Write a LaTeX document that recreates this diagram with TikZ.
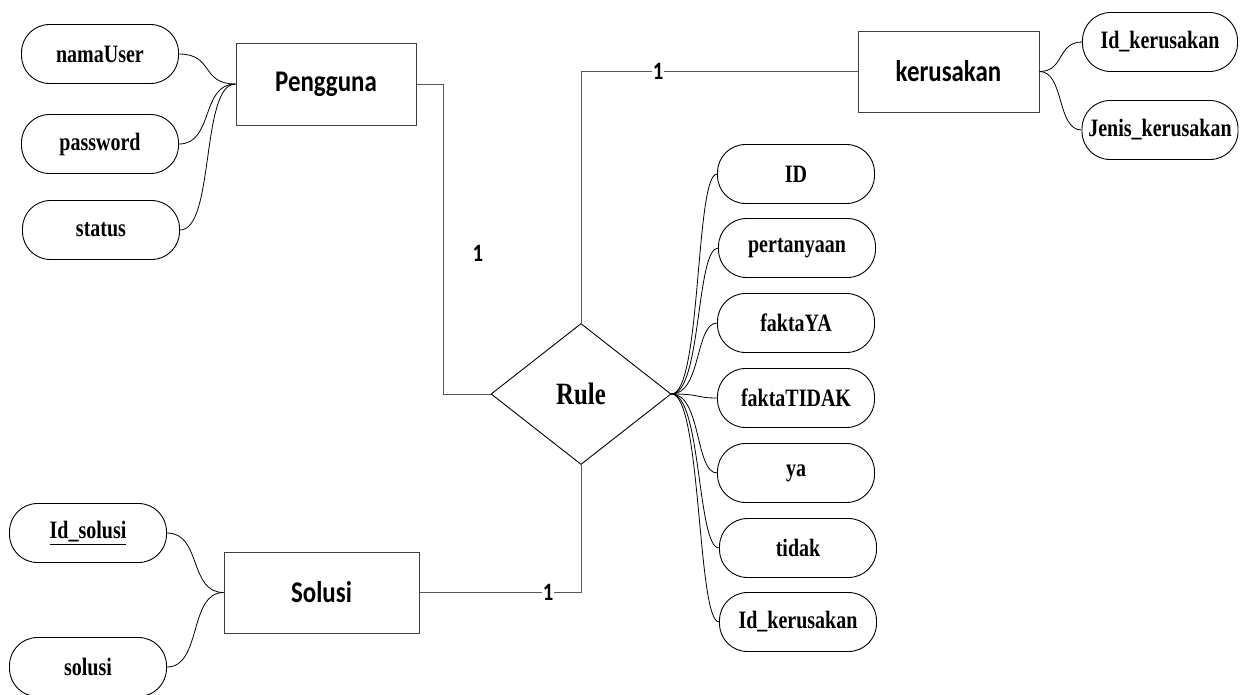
\documentclass[tikz,border=0pt]{standalone}
\usepackage{fontspec}
\usetikzlibrary{shapes.geometric}
\newfontfamily\attrfont{Liberation Serif}[FakeStretch=0.8]
\newfontfamily\entfont{Carlito}[FakeStretch=0.83]

\tikzset{
  attr/.style={draw=black, line width=0.9pt, rounded corners=28pt,
    minimum width=157pt, minimum height=59pt, inner sep=0pt,
    font=\attrfont\bfseries\fontsize{25}{27}\selectfont},
  entity/.style={draw=black!75, line width=1pt, inner sep=0pt,
    font=\entfont\bfseries\fontsize{30}{32}\selectfont},
  relation/.style={diamond, draw=black, line width=0.9pt, inner sep=0pt,
    minimum width=180pt, minimum height=141pt,
    font=\attrfont\bfseries\fontsize{31}{33}\selectfont},
  link/.style={draw=black!65, line width=1pt},
  curve/.style={draw=black, line width=0.8pt},
  card/.style={inner sep=1pt, font=\entfont\bfseries\fontsize{25}{27}\selectfont},
}

\begin{document}
\begin{tikzpicture}[x=1pt,y=-1pt]
  \useasboundingbox (0,0) rectangle (1246,694);
  \clip (0,0) rectangle (1246,694);

  % entities
  \node[entity, minimum width=180pt, minimum height=82pt] (peng) at (326,84) {Pengguna};
  \node[entity, minimum width=181pt, minimum height=81pt] (ker) at (948.5,71.5) {kerusakan};
  \node[entity, minimum width=195pt, minimum height=81pt] (sol) at (321.5,592.5) {Solusi};

  % relationship
  \node[relation] (rule) at (581,394) {Rule};

  % attributes of Pengguna
  \node[attr] (nama) at (100,54) {namaUser};
  \node[attr] (pass) at (100,144) {password};
  \node[attr] (stat) at (101,230) {status};

  % attributes of kerusakan
  \node[attr, minimum width=155pt] (kid) at (1160,42) {Id\_kerusakan};
  \node[attr, minimum width=156pt] (kjen) at (1160,130) {Jenis\_kerusakan};

  % attributes of Rule
  \node[attr] (rid) at (796,174) {ID};
  \node[attr] (rper) at (797,248) {pertanyaan};
  \node[attr] (rfy) at (796,323) {faktaYA};
  \node[attr] (rft) at (796,398) {faktaTIDAK};
  \node[attr] (rya) at (796,473) {ya};
  \node[attr] (rtd) at (798,548) {tidak};
  \node[attr] (rik) at (798,622) {Id\_kerusakan};

  % attributes of Solusi
  \node[attr] (sid) at (88,533) {\underline{Id\_solusi}};
  \node[attr] (ssol) at (88,667) {solusi};

  % relationship lines
  \draw[link] (peng.east) -- ++(27,0) |- (rule.west);
  \draw[link] (rule.north) |- (ker.west);
  \draw[link] (rule.south) |- (sol.east);

  % cardinalities
  \node[card] (c1) at (478,253) {1};
  \node[card, fill=white] (c2) at (658,71) {1};
  \node[card, fill=white] (c3) at (548,592) {1};

  % attribute links
  \foreach \a in {nama,pass,stat}
    \draw[curve] (\a.east) .. controls +(35,0) and +(-35,0) .. (peng.west);
  \foreach \a in {kid,kjen}
    \draw[curve] (ker.east) .. controls +(25,0) and +(-25,0) .. (\a.west);
  \foreach \a in {rid,rper,rfy,rft,rya,rtd,rik}
    \draw[curve] (rule.east) .. controls +(30,0) and +(-22,0) .. (\a.west);
  \foreach \a in {sid,ssol}
    \draw[curve] (\a.east) .. controls +(35,0) and +(-35,0) .. (sol.west);
\end{tikzpicture}
\end{document}
